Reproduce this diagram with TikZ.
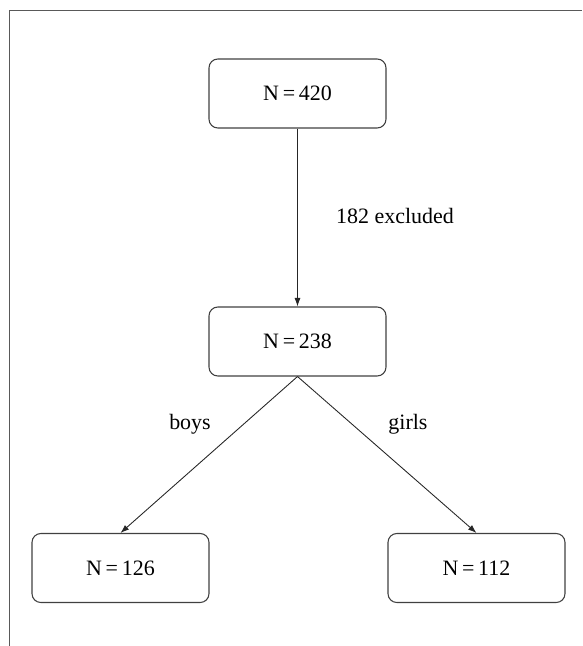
\documentclass[tikz,border=0pt]{standalone}
\usepackage{fontspec}
\setmainfont{Liberation Serif}
\usetikzlibrary{arrows.meta,positioning}

\tikzset{
  countbox/.style={draw=black!75,line width=0.6pt,rounded corners=5pt,
    minimum width=3.54cm,minimum height=1.38cm,inner sep=0pt},
  flow/.style={draw=black!85,line width=0.5pt,-{Latex[length=1.7mm,width=1.2mm]}},
  lbl/.style={inner sep=0pt}
}
\newcommand{\cnt}[1]{N\,=\,#1}

\begin{document}
\begin{tikzpicture}[x=0.02cm,y=-0.02cm,font=\fontsize{12.5}{15}\selectfont]
\useasboundingbox (0,0) rectangle (582,646);
% frame
\draw[black!65,line width=1.1pt] (9.5,646) |- (582,10.5);
% boxes
\node[countbox] (n420) at (297.5,93.5) {\cnt{420}};
\node[countbox] (n238) at (297.5,341.5) {\cnt{238}};
\node[countbox] (n126) at (120.5,568) {\cnt{126}};
\node[countbox] (n112) at (476.5,568) {\cnt{112}};
% arrows
\draw[flow] (n420) -- (n238);
\draw[flow] (n238.south) -- (n126.north);
\draw[flow] (n238.south) -- (n112.north);
% labels
\node[lbl] (excl) at (395,216) {182 excluded};
\node[lbl] (boys) at (190,424) {boys};
\node[lbl] (girls) at (408,424) {girls};
\end{tikzpicture}
\end{document}
